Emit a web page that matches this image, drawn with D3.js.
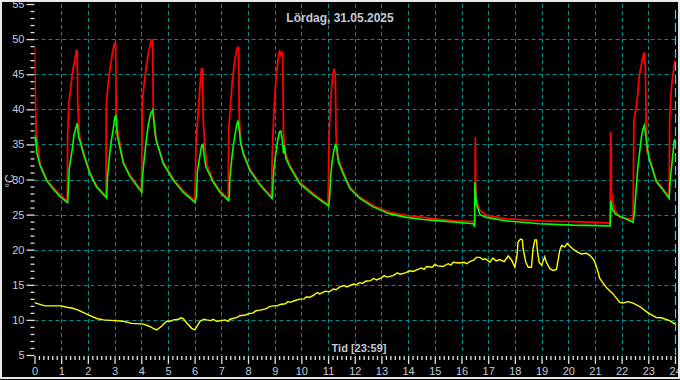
<!DOCTYPE html>
<html><head><meta charset="utf-8">
<script src="https://cdn.jsdelivr.net/npm/d3@7"></script>
<style>
html,body{margin:0;padding:0;background:#000;}
svg{display:block;}
</style></head>
<body>
<script>
// ---- data (hours, °C) ----
const titleText = "Lördag, 31.05.2025";
const xLabelText = "Tid [23:59]";
const yLabelText = "°C";
const xTicks = d3.range(0, 25, 1);
const yTicks = [5, 10, 15, 20, 25, 30, 35, 40, 45, 50, 55];
const gridY = [10, 15, 20, 25, 30, 35, 40, 45, 50];
const gridX = d3.range(1, 24, 1);

const redSeries = [
 [0,48.9],[0.04,40.3],[0.06,36.6],[0.21,32.2],[0.46,30],[0.71,28.8],[0.95,27.8],[1.23,26.9],
 [1.24,36.3],[1.29,41],[1.36,43],[1.42,45.3],[1.5,46.8],[1.57,48.4],[1.6,48.4],[1.62,41.3],[1.66,37.7],[1.7,35.8],
 [1.83,33.9],[2.08,31],[2.33,29.1],[2.68,27.6],
 [2.69,40.6],[2.72,42],[2.78,44.4],[2.85,46.3],[2.92,48],[2.98,49.1],[3.0,49.4],[3.04,49.4],[3.06,39.6],[3.12,36.8],
 [3.33,32.5],[3.58,30.6],[4.01,28.4],
 [4.04,41],[4.1,43.4],[4.18,45.8],[4.25,47.7],[4.33,49.1],[4.39,49.9],[4.43,49.9],[4.45,39.9],[4.5,36.8],
 [4.58,35.3],[4.82,32.5],[5.2,30.1],[5.57,28.4],[6.01,26.9],
 [6.05,34.9],[6.1,37.7],[6.16,41],[6.2,43.2],[6.24,45.1],[6.26,45.8],[6.3,45.8],[6.32,38.4],[6.38,35],
 [6.45,32.2],[6.7,29.8],[6.95,28.4],[7.26,27.2],
 [7.28,37.2],[7.35,41],[7.41,43.9],[7.48,46.3],[7.55,48],[7.61,48.8],[7.65,48.8],[7.67,38.9],[7.73,35.3],
 [7.82,33.9],[8.07,31.5],[8.45,29.4],[8.88,27.5],
 [8.91,33.9],[8.97,39.6],[9.03,43.4],[9.1,46.3],[9.16,48],[9.19,48.3],[9.24,47.7],[9.3,48.2],[9.33,36.8],[9.39,33.9],
 [9.57,32],[9.94,29.6],[10.44,28],[11.0,26.4],
 [11.04,36.3],[11.09,41],[11.14,43.4],[11.19,45.1],[11.23,45.8],[11.27,45.1],[11.3,36.3],[11.35,33.4],
 [11.57,31],[11.82,28.9],[12.19,27.5],[12.69,26.3],[13.31,25.3],[13.94,24.9],[14.56,24.6],[15.19,24.3],[15.81,24.1],[16.43,24.0],[16.5,24.0],
 [16.52,36],[16.53,29.6],[16.56,27],[16.69,25.6],[16.94,24.9],[17.69,24.4],[18.93,24.1],[20.18,24.0],[21.57,23.8],
 [21.59,36.8],[21.61,34.4],[21.62,28],[21.75,25.6],[21.93,24.6],[22.43,24.3],
 [22.46,38.4],[22.55,40.3],[22.6,42],[22.65,44.4],[22.7,45.6],[22.76,46.8],[22.81,47.7],[22.85,48.1],[22.89,46],[22.92,38],[22.95,34],
 [23.03,33.2],[23.3,29.9],[23.55,28.7],[23.78,27.5],
 [23.8,38.4],[23.84,41.6],[23.88,43.7],[23.93,45.1],[23.97,46.3],[24,47]
];

const greenSeries = [
 [0,36.4],[0.03,35.3],[0.05,36],[0.08,33.9],[0.21,32],[0.46,29.8],[0.71,28.6],[0.95,27.6],[1.24,26.7],
 [1.27,28.7],[1.3,31.5],[1.36,33],[1.42,34.4],[1.48,36.3],[1.54,37.2],[1.6,38],[1.66,35.8],[1.7,35.6],
 [1.83,33.7],[2.08,30.8],[2.33,28.9],[2.7,27.4],
 [2.74,30.6],[2.8,33],[2.87,35.3],[2.95,37.2],[3.01,38.9],[3.05,39.1],[3.1,36.3],
 [3.33,32.3],[3.58,30.4],[4.02,28.2],
 [4.04,30.1],[4.1,32.5],[4.18,35.3],[4.26,37.7],[4.35,39.4],[4.43,39.9],[4.48,38.2],[4.55,35.8],
 [4.82,32.3],[5.2,29.9],[5.57,28.2],[6.02,26.7],
 [6.07,27.7],[6.1,31],[6.16,32.5],[6.22,33.9],[6.27,34.9],[6.31,35],[6.36,33.4],[6.42,31.8],
 [6.7,29.6],[6.95,28.2],[7.27,27],
 [7.3,27.7],[7.32,30.1],[7.38,32.5],[7.45,34.9],[7.51,36.3],[7.57,37.7],[7.63,38.4],[7.67,37.2],[7.72,35.3],
 [7.82,33.7],[8.07,31.3],[8.45,29.2],[8.9,27.3],
 [8.92,28.2],[8.97,31.5],[9.03,33.4],[9.1,35.3],[9.18,36.8],[9.23,36.9],[9.28,35.8],[9.33,33.7],[9.36,34.9],[9.42,33],
 [9.57,31.8],[9.94,29.4],[10.44,27.8],[11.03,26.2],
 [11.07,28.2],[11.1,30.6],[11.15,32.5],[11.22,34.1],[11.28,35.1],[11.33,34.4],[11.39,32.5],
 [11.57,30.8],[11.82,28.7],[12.19,27.3],[12.69,26.1],[13.31,25.1],[13.94,24.6],[14.56,24.3],[15.19,24.1],[15.81,23.9],[16.43,23.7],[16.49,23.4],
 [16.5,29.6],[16.56,26.5],[16.69,25],[16.94,24.6],[17.69,24.1],[18.93,23.7],[20.18,23.5],[21.57,23.4],
 [21.6,27],[21.65,25.8],[21.76,25.1],[22.43,23.9],
 [22.48,25.3],[22.55,28.9],[22.61,31.8],[22.68,34.1],[22.74,36],[22.8,37.2],[22.85,37.7],[22.9,36.5],[22.96,34.6],
 [23.03,33],[23.3,29.7],[23.55,28.5],[23.78,27.3],
 [23.82,29.9],[23.87,31.8],[23.91,33.2],[23.97,35.6],[24,35.8]
];

const yellowSeries = [
 [0,12.5],[0.05,12.4],[0.39,12.0],[0.7,12.0],[1.0,12.0],[1.2,11.8],[1.4,11.7],[1.64,11.4],[1.8,11.1],[1.98,10.8],[2.15,10.5],[2.33,10.2],[2.58,10.0],[2.98,9.9],[3.33,9.8],[3.64,9.5],[4.08,9.4],[4.3,9.1],[4.45,8.8],[4.58,8.57],[4.76,9.1],[4.95,9.8],[5.1,9.8],[5.2,10.0],[5.4,10.1],[5.5,10.3],[5.57,10.2],[5.7,9.6],[5.89,8.8],[6.01,8.57],[6.2,9.8],[6.35,10.1],[6.45,10.0],[6.6,9.9],[6.7,10.1],[6.82,9.8],[7.0,9.9],[7.15,10.0],[7.25,9.8],[7.32,10.1],[7.57,10.33],[7.7,10.6],[7.9,10.7],[8.05,10.9],[8.2,11.0],[8.3,11.3],[8.45,11.4],[8.7,11.6],[8.8,11.9],[8.94,12.0],[9.1,12.0],[9.2,12.2],[9.4,12.3],[9.5,12.6],[9.57,12.5],[9.8,12.8],[9.94,12.96],[10.1,13.0],[10.2,13.3],[10.3,13.2],[10.45,13.5],[10.6,13.9],[10.69,13.7],[10.9,14.1],[11.05,14.0],[11.2,14.4],[11.3,14.3],[11.44,14.7],[11.6,14.9],[11.7,14.7],[11.95,15.1],[12.05,15.0],[12.19,15.3],[12.3,15.2],[12.4,15.5],[12.6,15.6],[12.7,15.9],[12.82,15.7],[13.0,16.0],[13.1,16.3],[13.2,16.1],[13.44,16.3],[13.6,16.7],[13.7,16.5],[13.9,16.7],[14.06,17.0],[14.2,16.9],[14.3,17.1],[14.5,17.4],[14.6,17.2],[14.69,17.6],[14.9,17.5],[15.0,17.9],[15.1,17.7],[15.31,17.6],[15.5,18.0],[15.6,17.8],[15.69,18.2],[15.9,18.1],[16.1,18.2],[16.2,18.0],[16.31,18.3],[16.45,18.5],[16.56,18.9],[16.69,18.9],[16.8,18.6],[16.9,18.7],[17.06,18.2],[17.18,18.8],[17.3,18.4],[17.42,18.6],[17.6,18.3],[17.75,19.1],[17.88,18.5],[18.0,17.5],[18.08,19.2],[18.12,21.1],[18.21,21.5],[18.28,21.4],[18.31,20.1],[18.41,18.2],[18.5,17.5],[18.62,17.5],[18.68,20.1],[18.75,21.4],[18.81,21.4],[18.85,19.7],[18.91,18.2],[19.0,17.8],[19.12,19.0],[19.18,18.2],[19.31,17.3],[19.43,17.05],[19.56,17.2],[19.62,18.5],[19.68,19.9],[19.75,20.6],[19.87,20.4],[19.96,20.9],[20.06,20.5],[20.18,20.1],[20.33,19.7],[20.49,19.4],[20.68,19.5],[20.81,19.2],[20.93,18.7],[21.0,18.2],[21.12,16.8],[21.18,15.9],[21.43,14.6],[21.68,13.7],[21.93,12.5],[22.05,12.4],[22.24,12.6],[22.43,12.4],[22.68,11.9],[22.99,11.0],[23.3,10.33],[23.49,10.3],[23.8,9.9],[24,9.4]
];

// ---- layout ----
const W = 680, H = 380;
const x = d3.scaleLinear().domain([0, 24]).range([34.5, 675]);
const y = d3.scaleLinear().domain([5, 55]).range([355, 4]);
const labelColor = "#c3cbd8";
const tickColor = "#e0e0e0";
const gridColor = "#008c8c";
const fontFam = "Liberation Sans, Arial, sans-serif";

const svg = d3.select("body").append("svg").attr("width", W).attr("height", H);
svg.append("rect").attr("width", W).attr("height", H).attr("fill", "#000");

svg.append("defs").append("clipPath").attr("id", "clip")
  .append("rect").attr("x", x(0)).attr("y", y(55)).attr("width", x(24) - x(0)).attr("height", y(5) - y(55));

// grid
const g = svg.append("g");
g.selectAll("line.gy").data(gridY).join("line")
  .attr("x1", x(0)).attr("x2", x(24)).attr("y1", d => Math.round(y(d)) + 0.5).attr("y2", d => Math.round(y(d)) + 0.5)
  .attr("stroke", gridColor).attr("stroke-width", 1).attr("stroke-dasharray", "4,3");
g.selectAll("line.gx").data(gridX).join("line")
  .attr("x1", d => Math.round(x(d)) + 0.5).attr("x2", d => Math.round(x(d)) + 0.5).attr("y1", y(55)).attr("y2", y(5))
  .attr("stroke", gridColor).attr("stroke-width", 1).attr("stroke-dasharray", "4,3");

// series
const line = d3.line().x(d => x(d[0])).y(d => y(d[1]));
const plot = svg.append("g").attr("clip-path", "url(#clip)");
plot.append("path").datum(yellowSeries).attr("d", line).attr("fill", "none").attr("stroke", "#ffff00").attr("stroke-width", 1.4);
plot.append("path").datum(redSeries).attr("d", line).attr("fill", "none").attr("stroke", "#ff0000").attr("stroke-width", 1.8);
plot.append("path").datum(greenSeries).attr("d", line).attr("fill", "none").attr("stroke", "#00ff00").attr("stroke-width", 1.6);

// current time marker at right edge
svg.append("line").attr("x1", x(24) + 0.5).attr("x2", x(24) + 0.5).attr("y1", y(55) + 6).attr("y2", y(5))
  .attr("stroke", "#00e8ff").attr("stroke-width", 1.2).attr("stroke-dasharray", "9,4");

// y axis
const yAxisMajor = d3.axisLeft(y).tickValues(yTicks).tickSize(8).tickPadding(2).tickFormat(d3.format("d"));
const yAxisMinor = d3.axisLeft(y).tickValues(d3.range(5, 56, 1).filter(v => v % 5 !== 0)).tickSize(4).tickFormat("");
const ya = svg.append("g").attr("transform", `translate(${x(0)},0)`).call(yAxisMajor);
const ym = svg.append("g").attr("transform", `translate(${x(0)},0)`).call(yAxisMinor);
[ya, ym].forEach(a => {
  a.select(".domain").remove();
  a.selectAll(".tick line").attr("stroke", tickColor).attr("stroke-width", 1.3);
  a.selectAll("text").attr("fill", labelColor).attr("font-family", fontFam).attr("font-size", 11);
});

// x axis
const xAxisMajor = d3.axisBottom(x).tickValues(xTicks).tickSize(8).tickPadding(3).tickFormat(d3.format("d"));
const xAxisMinor = d3.axisBottom(x).tickValues(d3.range(0, 144).map(i => i / 6).filter((v, i) => i % 6 !== 0)).tickSize(4).tickFormat("");
const xa = svg.append("g").attr("transform", `translate(0,${y(5) + 1})`).call(xAxisMajor);
const xm = svg.append("g").attr("transform", `translate(0,${y(5) + 1})`).call(xAxisMinor);
[xa, xm].forEach(a => {
  a.select(".domain").remove();
  a.selectAll(".tick line").attr("stroke", tickColor).attr("stroke-width", 1.3);
  a.selectAll("text").attr("fill", labelColor).attr("font-family", fontFam).attr("font-size", 11);
});

// texts
svg.append("text").attr("x", 340).attr("y", 22).attr("text-anchor", "middle")
  .attr("fill", labelColor).attr("font-family", fontFam).attr("font-size", 12).attr("font-weight", "bold")
  .text(titleText);
svg.append("text").attr("x", 359).attr("y", 352).attr("text-anchor", "middle")
  .attr("fill", labelColor).attr("font-family", fontFam).attr("font-size", 11).attr("font-weight", "bold")
  .text(xLabelText);
svg.append("text").attr("transform", "translate(14,181) rotate(-90)").attr("text-anchor", "middle")
  .attr("fill", labelColor).attr("font-family", fontFam).attr("font-size", 12)
  .text(yLabelText);

// frame
svg.append("rect").attr("x", 1).attr("y", 1).attr("width", W - 2).attr("height", H - 3)
  .attr("fill", "none").attr("stroke", "#e8e8e8").attr("stroke-width", 2);
</script>
</body></html>
